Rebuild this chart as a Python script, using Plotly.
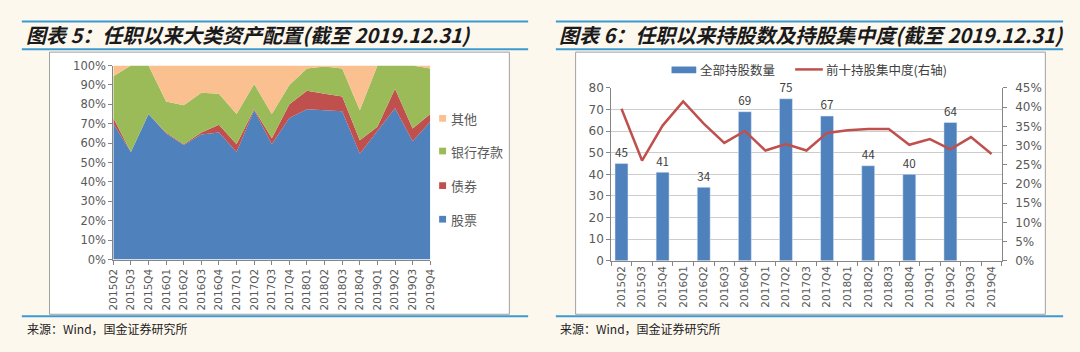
import plotly.graph_objects as go

quarters = ["2015Q2","2015Q3","2015Q4","2016Q1","2016Q2","2016Q3","2016Q4","2017Q1","2017Q2","2017Q3",
            "2017Q4","2018Q1","2018Q2","2018Q3","2018Q4","2019Q1","2019Q2","2019Q3","2019Q4"]

# Chart 5: asset allocation (% of total)
stock = [70, 55.5, 75, 65, 59, 64.5, 65.5, 55.5, 77, 59.5, 73, 77.5, 77, 76.5, 54.5, 66, 78, 61, 71]
bond = [3, 0, 0, 0.5, 0.5, 1, 4, 4, 0.5, 3, 7, 9.5, 8.5, 7.5, 7, 2.5, 10, 6.5, 4]
bank = [21.5, 44.5, 25, 16, 20, 20.5, 16, 15.5, 13, 12.5, 10, 11.5, 14, 14.5, 15.5, 31.5, 12, 32.5, 23.5]
other = [5.5, 0, 0, 18.5, 20.5, 14, 14.5, 25, 9.5, 25, 10, 1.5, 0.5, 1.5, 23, 0, 0, 0, 1.5]

# Chart 6: holdings count and top-10 concentration
holdings = [45, None, 41, None, 34, None, 69, None, 75, None, 67, None, 44, None, 40, None, 64, None, None]
top10 = [39.6, 26.1, 35.2, 41.5, 35.7, 30.7, 33.8, 28.7, 30.4, 28.7, 33.3, 34.0, 34.3, 34.3, 30.2, 31.7, 29.0, 32.2, 27.8]

W, H = 1080, 352
def px(x): return x / W
def py(y): return 1 - y / H

BLUE = "#4F81BD"; RED = "#C0504D"; GREEN = "#9BBB59"; PEACH = "#FAC08F"
GRAY = "#595959"
FONT = "Noto Sans CJK SC"
TICKFONT = "DejaVu Sans"
idx = list(range(len(quarters)))

fig = go.Figure()
series = [("股票", stock, BLUE), ("债券", bond, RED), ("银行存款", bank, GREEN), ("其他", other, PEACH)]
for name, vals, col in series:
    fig.add_trace(go.Scatter(x=idx, y=[v / 100 for v in vals], name=name, mode="lines",
                             stackgroup="one", line=dict(width=0, color=col), fillcolor=col,
                             showlegend=False, xaxis="x", yaxis="y"))

fig.add_trace(go.Bar(x=quarters, y=holdings, name="全部持股数量", marker_color=BLUE,
                     texttemplate="%{y}", textposition="outside", cliponaxis=False,
                     textfont=dict(size=13, color="#404040", family=FONT),
                     showlegend=False, xaxis="x2", yaxis="y2"))
fig.add_trace(go.Scatter(x=quarters, y=[v / 100 for v in top10], name="前十持股集中度(右轴)",
                         mode="lines", line=dict(color=RED, width=2.5),
                         showlegend=False, xaxis="x2", yaxis="y3"))

shapes = []
annos = []
# white chart frames
for x0, x1 in [(43, 508), (575, 1050)]:
    shapes.append(dict(type="rect", xref="paper", yref="paper", x0=px(x0), x1=px(x1), y0=py(320), y1=py(47),
                       fillcolor="white", line=dict(color="#A0A0A0", width=1), layer="below"))
# title rules
for x0, x1 in [(15, 527), (555, 1068)]:
    for yy in (15, 44, 322):
        shapes.append(dict(type="line", xref="paper", yref="paper", x0=px(x0), x1=px(x1), y0=py(yy), y1=py(yy),
                           line=dict(color="#3D9AD1", width=2)))

annos.append(dict(text="<b><i>图表 5：任职以来大类资产配置(截至 2019.12.31)</i></b>", x=px(17), y=py(29),
                  xref="paper", yref="paper", xanchor="left", yanchor="middle", showarrow=False,
                  font=dict(size=20, color="#1A1A1A", family=FONT)))
annos.append(dict(text="<b><i>图表 6：任职以来持股数及持股集中度(截至 2019.12.31)</i></b>", x=px(556), y=py(29),
                  xref="paper", yref="paper", xanchor="left", yanchor="middle", showarrow=False,
                  font=dict(size=20, color="#1A1A1A", family=FONT)))
for xs in (18, 557):
    annos.append(dict(text="来源：Wind，国金证券研究所", x=px(xs), y=py(335), xref="paper", yref="paper",
                      xanchor="left", yanchor="middle", showarrow=False,
                      font=dict(size=12, color="#222222", family=FONT)))

# left legend
for (name, col), yy in zip([("其他", PEACH), ("银行存款", GREEN), ("债券", RED), ("股票", BLUE)], [116, 150, 186, 221]):
    shapes.append(dict(type="rect", xref="paper", yref="paper", x0=px(437), x1=px(444), y0=py(yy + 3.5), y1=py(yy - 3.5),
                       fillcolor=col, line=dict(width=0)))
    annos.append(dict(text=name, x=px(447), y=py(yy), xref="paper", yref="paper", xanchor="left", yanchor="middle",
                      showarrow=False, font=dict(size=13, color=GRAY, family=FONT)))

# right legend
shapes.append(dict(type="rect", xref="paper", yref="paper", x0=px(672), x1=px(697), y0=py(69), y1=py(62),
                   fillcolor=BLUE, line=dict(width=0)))
annos.append(dict(text="全部持股数量", x=px(699), y=py(65), xref="paper", yref="paper", xanchor="left", yanchor="middle",
                  showarrow=False, font=dict(size=12.5, color="#404040", family=FONT)))
shapes.append(dict(type="line", xref="paper", yref="paper", x0=px(797), x1=px(825), y0=py(65), y1=py(65),
                   line=dict(color=RED, width=2.5)))
annos.append(dict(text="前十持股集中度(右轴)", x=px(826), y=py(65), xref="paper", yref="paper", xanchor="left", yanchor="middle",
                  showarrow=False, font=dict(size=12.5, color="#404040", family=FONT)))

fig.update_layout(
    width=W, height=H, margin=dict(l=0, r=0, t=0, b=0),
    paper_bgcolor="#FDF8EE", plot_bgcolor="rgba(0,0,0,0)",
    showlegend=False, bargap=0.37,
    shapes=shapes, annotations=annos,
    xaxis=dict(domain=[px(107.5), px(428)], range=[0, 18], tickvals=idx, ticktext=quarters, tickangle=-90,
               ticks="outside", ticklen=4, tickcolor="#868686", showline=True, linecolor="#868686",
               showgrid=False, zeroline=False, tickfont=dict(size=10.5, color=GRAY, family=TICKFONT)),
    yaxis=dict(domain=[py(263), py(61)], range=[0, 1], dtick=0.1, tickformat=".0%", ticks="outside", ticklen=4,
               tickcolor="#868686", showline=True, linecolor="#868686", showgrid=False, zeroline=False,
               tickfont=dict(size=11.5, color=GRAY, family=TICKFONT)),
    xaxis2=dict(domain=[px(611), px(1006)], type="category", tickangle=-90, tickson="boundaries",
                ticks="outside", ticklen=4, tickcolor="#868686", showline=True, linecolor="#868686",
                showgrid=False, zeroline=False, anchor="y2",
                tickfont=dict(size=10.5, color=GRAY, family=TICKFONT)),
    yaxis2=dict(domain=[py(264.3), py(84.3)], range=[0, 80], dtick=10, ticks="outside", ticklen=4,
                tickcolor="#868686", showline=True, linecolor="#868686", showgrid=True, gridcolor="#CCCCCC",
                zeroline=False, anchor="x2", tickfont=dict(size=12, color=GRAY, family=TICKFONT)),
    yaxis3=dict(overlaying="y2", side="right", range=[0, 0.45], dtick=0.05, tickformat=".0%", ticks="outside",
                ticklen=4, tickcolor="#868686", showline=True, linecolor="#868686", showgrid=False,
                zeroline=False, anchor="x2", ticklabelstandoff=6,
                tickfont=dict(size=12, color=GRAY, family=TICKFONT)),
)

fig.write_html("out.html")
